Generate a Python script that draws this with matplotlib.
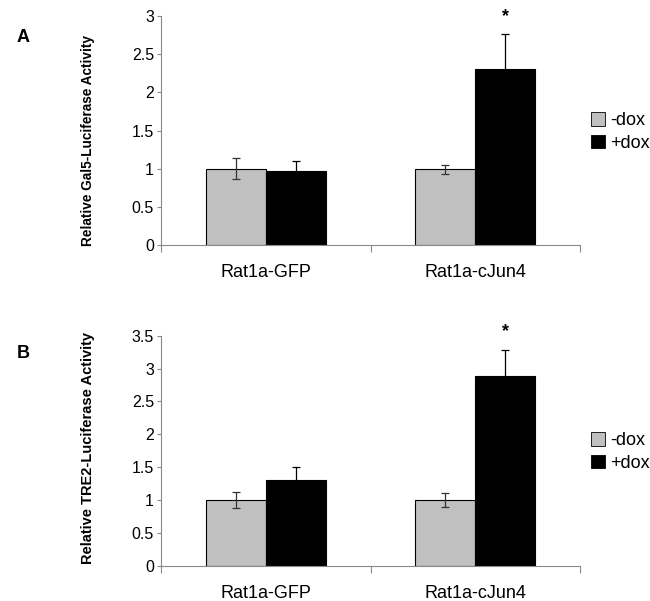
import numpy as np
import matplotlib
matplotlib.use("Agg")
import matplotlib.pyplot as plt
from matplotlib.patches import Patch

plt.rcParams['font.family'] = ['Liberation Sans', 'DejaVu Sans']

## data
groups = ["Rat1a-GFP", "Rat1a-cJun4"]
series = ["-dox", "+dox"]

gal5_minus = [1.00, 0.99]
gal5_minus_err = [0.14, 0.06]
gal5_plus = [0.97, 2.30]
gal5_plus_err = [0.13, 0.46]

tre2_minus = [1.00, 1.00]
tre2_minus_err = [0.12, 0.10]
tre2_plus = [1.30, 2.89]
tre2_plus_err = [0.20, 0.40]

gal5_ticks = [0, 0.5, 1, 1.5, 2, 2.5, 3]
tre2_ticks = [0, 0.5, 1, 1.5, 2, 2.5, 3, 3.5]

grey = "#c0c0c0"
axis_col = "#8a8a8a"
w = 0.2857

fig = plt.figure(figsize=(6.5, 6.01), dpi=100)
ax1 = fig.add_axes([0.2477, 0.5923, 0.6446, 0.381])
ax2 = fig.add_axes([0.2477, 0.0587, 0.6446, 0.3827])


def draw_panel(ax, minus, minus_err, plus, plus_err, ticks, ylabel, letter,
               ylab_y, ylab_size, letter_y, legend_y):
    x = np.arange(len(groups)) + 0.5
    ax.bar(x - w / 2, minus, w, color=grey, edgecolor="black", linewidth=0.8,
           yerr=minus_err, error_kw=dict(ecolor="#333333", elinewidth=0.9, capsize=3, capthick=0.9))
    ax.bar(x + w / 2, plus, w, color="black", edgecolor="black", linewidth=0.8,
           yerr=plus_err, error_kw=dict(ecolor="black", elinewidth=0.9, capsize=3, capthick=0.9))
    # significance star over the cJun4 +dox bar
    ax.annotate("*", (x[1] + w / 2, plus[1] + plus_err[1]), xytext=(0, 7),
                textcoords="offset points", ha="center", va="bottom", fontsize=13, fontweight="bold")
    ax.set_xlim(0, 2)
    ax.set_ylim(ticks[0], ticks[-1])
    ax.set_yticks(ticks)
    ax.set_yticklabels(["%g" % t for t in ticks], fontsize=11.5)
    ax.set_xticks(x)
    ax.set_xticklabels(groups, fontsize=13)
    ax.set_xticks([0, 1, 2], minor=True)
    ax.tick_params(axis="x", which="major", length=0, pad=14)
    ax.tick_params(axis="x", which="minor", length=5, color=axis_col, width=0.8)
    ax.tick_params(axis="y", length=3, color=axis_col, width=0.8, pad=2)
    for s in ["top", "right"]:
        ax.spines[s].set_visible(False)
    for s in ["left", "bottom"]:
        ax.spines[s].set_color(axis_col)
        ax.spines[s].set_linewidth(0.8)
    handles = [Patch(facecolor=grey, edgecolor="black", linewidth=0.6),
               Patch(facecolor="black", edgecolor="black", linewidth=0.6)]
    fig.legend(handles, series, loc="center left", bbox_to_anchor=(591 / 650, 1 - legend_y / 601),
               frameon=False, fontsize=13, handlelength=0.75, handleheight=0.75,
               handletextpad=0.3, labelspacing=0.3, borderaxespad=0, borderpad=0)
    fig.text(88 / 650, 1 - ylab_y / 601, ylabel, rotation=90, ha="center", va="center",
             fontsize=ylab_size, fontweight="bold")
    fig.text(23 / 650, 1 - letter_y / 601, letter, ha="center", va="center",
             fontsize=13, fontweight="bold")


draw_panel(ax1, gal5_minus, gal5_minus_err, gal5_plus, gal5_plus_err, gal5_ticks,
           "Relative Gal5-Luciferase Activity", "A", 141, 9.8, 37, 132)
draw_panel(ax2, tre2_minus, tre2_minus_err, tre2_plus, tre2_plus_err, tre2_ticks,
           "Relative TRE2-Luciferase Activity", "B", 448, 10.5, 353, 452)

plt.savefig("out.png", dpi=100)
